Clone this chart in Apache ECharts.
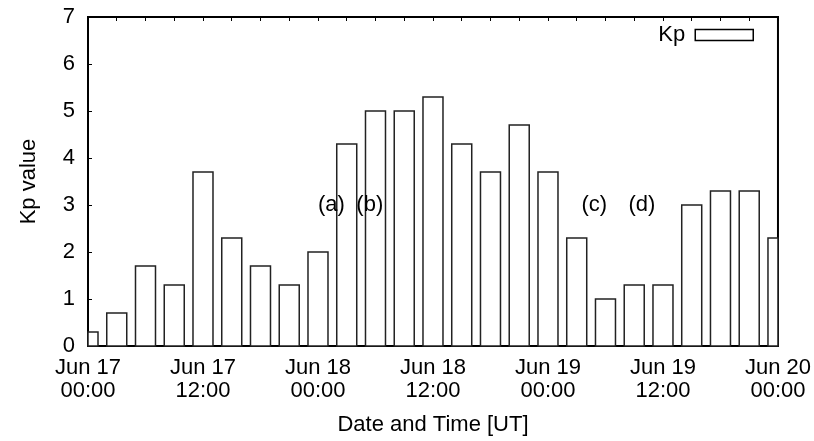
<!DOCTYPE html>
<html>
<head>
<meta charset="utf-8">
<script src="https://cdn.jsdelivr.net/npm/echarts@6/dist/echarts.min.js"></script>
<style>
html, body { margin: 0; padding: 0; background: #fff; }
#myChart { width: 814px; height: 441px; }
</style>
</head>
<body>
<div id="myChart"></div>
<script>
// hours since Jun 17 00:00 UT, one Kp value every 3 hours
var hours = [0, 3, 6, 9, 12, 15, 18, 21, 24, 27, 30, 33, 36, 39, 42, 45, 48, 51, 54, 57, 60, 63, 66, 69, 72];
var kpValues = [0.3, 0.7, 1.7, 1.3, 3.7, 2.3, 1.7, 1.3, 2.0, 4.3, 5.0, 5.0, 5.3, 4.3, 3.7, 4.7, 3.7, 2.3, 1.0, 1.3, 1.3, 3.0, 3.3, 3.3, 2.3];
var xTickLabels = ['Jun 17\n00:00', 'Jun 17\n12:00', 'Jun 18\n00:00', 'Jun 18\n12:00', 'Jun 19\n00:00', 'Jun 19\n12:00', 'Jun 20\n00:00'];
var eventNames = ['(a)', '(b)', '(c)', '(d)'];
var eventHours = [24, 28, 51.5, 56.4];
var eventLevel = [3, 3, 3, 3];

var myChart_1 = echarts.init(document.getElementById('myChart'));
var font = 'Liberation Sans, Arial, Helvetica, sans-serif';

var barData = [];
for (var i = 0; i < hours.length; i++) {
    barData.push([hours[i], kpValues[i]]);
}
var eventData = [];
for (var j = 0; j < eventNames.length; j++) {
    eventData.push({name: eventNames[j], value: [eventHours[j], eventLevel[j]]});
}

// boxes drawn like gnuplot "with boxes", cut off at the plot border
function renderBox(params, api) {
    var top = api.coord([api.value(0), api.value(1)]);
    var base = api.coord([api.value(0), 0]);
    var cs = params.coordSys;
    var shape = echarts.graphic.clipRectByRect(
        {x: top[0] - 10, y: top[1], width: 20, height: base[1] - top[1]},
        {x: cs.x, y: cs.y, width: cs.width, height: cs.height}
    );
    if (!shape) { return; }
    return {type: 'rect', shape: shape, style: {fill: '#fff', stroke: '#222', lineWidth: 1.5}};
}

var option = {
    animation: false,
    backgroundColor: '#fff',
    textStyle: {fontFamily: font},
    grid: {left: 88, right: 34, top: 17, bottom: 95, show: true, borderColor: '#000', borderWidth: 2},
    legend: {
        data: ['Kp'], right: 55, top: 19, align: 'right', icon: 'rect',
        itemWidth: 58, itemHeight: 11, itemGap: 0,
        textStyle: {fontSize: 22, color: '#000', fontFamily: font, padding: [0, 5, 0, 0]},
        itemStyle: {color: '#fff', borderColor: '#000', borderWidth: 1.5}
    },
    xAxis: [
        {
            type: 'value', position: 'bottom', min: 0, max: 72, interval: 12,
            name: 'Date and Time [UT]', nameLocation: 'middle', nameGap: 68,
            nameTextStyle: {fontSize: 22, color: '#000', fontFamily: font},
            axisLine: {show: true, lineStyle: {color: '#000', width: 2}},
            axisTick: {show: true, inside: true, length: 4, lineStyle: {color: '#000'}},
            minorTick: {show: true, splitNumber: 4, length: 4, lineStyle: {color: '#000'}},
            splitLine: {show: false},
            axisLabel: {
                fontSize: 22, color: '#000', lineHeight: 23, margin: 10, fontFamily: font,
                formatter: function (v) { return xTickLabels[Math.round(v / 12)]; }
            }
        },
        {
            type: 'value', position: 'top', min: 0, max: 72, interval: 12,
            axisLine: {show: true, lineStyle: {color: '#000', width: 2}},
            axisTick: {show: true, inside: true, length: 4, lineStyle: {color: '#000'}},
            minorTick: {show: true, splitNumber: 4, length: 4, lineStyle: {color: '#000'}},
            splitLine: {show: false},
            axisLabel: {show: false}
        }
    ],
    yAxis: {
        type: 'value', min: 0, max: 7, interval: 1,
        name: 'Kp value', nameLocation: 'middle', nameGap: 48, nameRotate: 90,
        nameTextStyle: {fontSize: 22, color: '#000', fontFamily: font},
        axisLine: {show: true, lineStyle: {color: '#000', width: 2}},
        axisTick: {show: true, inside: true, length: 4, lineStyle: {color: '#000'}},
        splitLine: {show: false},
        axisLabel: {fontSize: 22, color: '#000', margin: 13, fontFamily: font}
    },
    series: [
        {
            name: 'Kp', type: 'custom', xAxisIndex: 0, renderItem: renderBox,
            encode: {x: 0, y: 1},
            itemStyle: {color: '#fff', borderColor: '#000', borderWidth: 1.5},
            data: barData
        },
        {
            name: 'events', type: 'scatter', xAxisIndex: 0, symbolSize: 0, z: 5,
            itemStyle: {opacity: 1},
            label: {
                show: true, position: 'right', distance: 0, opacity: 1,
                fontSize: 22, color: '#000', fontFamily: font,
                formatter: function (p) { return p.name; }
            },
            data: eventData
        }
    ]
};
myChart_1.setOption(option);
</script>
</body>
</html>
